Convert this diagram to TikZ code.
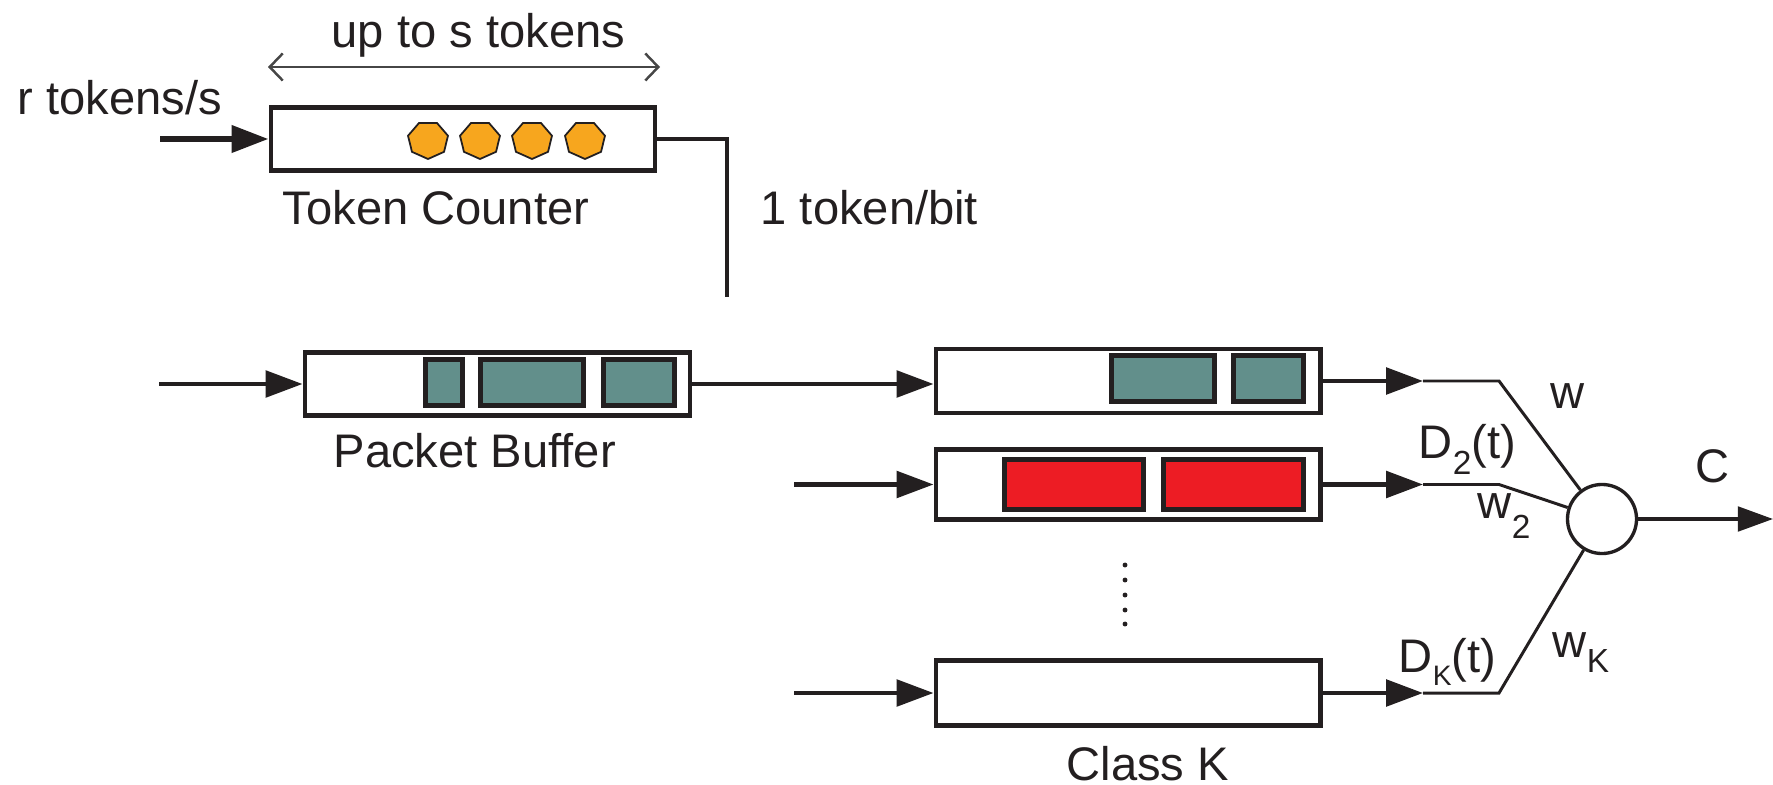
\documentclass[tikz,border=0pt]{standalone}
\usepackage{fontspec}
\setmainfont{Liberation Sans}
\usetikzlibrary{arrows.meta,calc}

\definecolor{ink}{RGB}{35,31,32}
\definecolor{pktteal}{RGB}{98,143,139}
\definecolor{pktred}{RGB}{237,28,36}
\definecolor{tokorange}{RGB}{247,166,30}
\definecolor{spangray}{RGB}{70,70,70}

% lowered small index for the D and w labels
\newcommand\lowidx[2][4.6pt]{\raisebox{-#1}{\fontsize{9.5pt}{9.5pt}\selectfont #2}}

\begin{document}
\begin{tikzpicture}[
  x=0.01cm, y=-0.01cm,
  font=\fontsize{13.4pt}{15pt}\selectfont,
  queue/.style={draw=ink, line width=1.35pt, fill=white, inner sep=0pt,
                minimum width=3.84cm},
  pkt/.style={draw=ink, line width=1.3pt, inner sep=0pt},
  conn/.style={draw=ink, line width=1.25pt,
               -{Triangle[length=10.5pt,width=7.5pt]}},
  feed/.style={draw=ink, line width=0.85pt},
  span/.style={draw=spangray, line width=0.7pt,
               {Straight Barb[length=3.7pt,width=7.7pt]}-{Straight Barb[length=3.7pt,width=7.7pt]}},
  token/.style={draw=ink, line width=0.5pt, fill=tokorange},
  lbl/.style={inner sep=0pt, anchor=base west, text=ink}
]
\useasboundingbox (0,0) rectangle (1773,785);

% ---------------- token bucket ----------------
\node[queue, minimum height=0.63cm] (tc) at (463,139) {};
\foreach \cx [count=\i] in {428,480,532,585}{
  \draw[token, shift={(\cx,140)}]
    plot[samples at={0,...,6}, variable=\t]
      ({20.5*cos(90+\t*360/7)},{19*sin(90+\t*360/7)}) -- cycle;
}
\coordinate (tcin) at (160,139);
\draw[conn, line width=1.7pt] (tcin) -- (tc.west);

\coordinate (spanL) at (268,67);
\coordinate (spanR) at (660,67);
\draw[span] (spanL) -- (spanR);

\coordinate (bitdrop) at (727,297);
\draw[ink, line width=1.3pt] (tc.east) -| (bitdrop);

\node[lbl] (lupto) at (331,48) {up to s tokens};
\node[lbl] (lrate) at (17,115) {r tokens/s};
\node[lbl] (ltc)   at (282,225) {Token Counter};
\node[lbl] (lbit)  at (760,225) {1 token/bit};

% ---------------- packet buffer ----------------
\node[queue, minimum width=3.85cm, minimum height=0.63cm] (pb) at (497.5,384) {};
\node[pkt, fill=pktteal, minimum width=0.37cm, minimum height=0.46cm] (pb1) at (444,382.5) {};
\node[pkt, fill=pktteal, minimum width=1.03cm, minimum height=0.46cm] (pb2) at (532,382.5) {};
\node[pkt, fill=pktteal, minimum width=0.71cm, minimum height=0.46cm] (pb3) at (639,382.5) {};
\coordinate (pbin) at (159,384);
\draw[conn] (pbin) -- (pb.west);
\node[lbl] (lpb) at (333,467) {Packet Buffer};

% ---------------- class queues ----------------
\node[queue, minimum height=0.64cm] (c1) at (1128,381) {};
\node[pkt, fill=pktteal, minimum width=1.03cm, minimum height=0.46cm] (c1a) at (1163,378.5) {};
\node[pkt, fill=pktteal, minimum width=0.70cm, minimum height=0.46cm] (c1b) at (1268.5,378.5) {};

\node[queue, minimum height=0.70cm] (c2) at (1128,484.5) {};
\node[pkt, fill=pktred, minimum width=1.39cm, minimum height=0.50cm] (c2a) at (1074,484.5) {};
\node[pkt, fill=pktred, minimum width=1.40cm, minimum height=0.50cm] (c2b) at (1233.5,484.5) {};

\node[queue, minimum height=0.65cm] (cK) at (1128,693) {};
\node[lbl] (lck) at (1066,780) {Class K};

\draw[conn] (pb.east) -- (c1.west |- pb.east);
\coordinate (in2) at (794,484.5);
\coordinate (inK) at (794,693);
\draw[conn] (in2) -- (c2.west);
\draw[conn] (inK) -- (cK.west);

\foreach \yy in {565,580,595,610,624}
  \fill[ink] (1125,\yy) circle (0.7pt);

% ---------------- scheduler ----------------
\node[draw=ink, circle, line width=0.95pt, minimum size=0.69cm, inner sep=0pt] (merge) at (1602,519) {};

\coordinate (t1) at (1423,381);   \coordinate (b1) at (1499,381);
\coordinate (t2) at (1423,484.5); \coordinate (b2) at (1499,484.5);
\coordinate (tK) at (1423,693);   \coordinate (bK) at (1499,693);

\draw[conn] (c1.east) -- (t1);
\draw[conn] (c2.east) -- (t2);
\draw[conn] (cK.east) -- (tK);
\draw[feed] (t1) -- (b1) -- (merge);
\draw[feed] (t2) -- (b2) -- (merge);
\draw[feed] (tK) -- (bK) -- (merge);

\coordinate (out) at (1773,519);
\draw[ink, line width=0.95pt, -{Triangle[length=10pt,width=7pt]}] (merge.east) -- (out);

\node[lbl] (lw)  at (1550,408) {w};
\node[lbl] (ld2) at (1418,458) {D\lowidx[4.8pt]{2}(t)};
\node[lbl] (lw2) at (1477,518) {w\lowidx[5.7pt]{2}};
\node[lbl] (ldk) at (1398,672) {D\lowidx[3.7pt]{\fontsize{8pt}{8pt}\selectfont K}(t)};
\node[lbl] (lwk) at (1552,657) {w\lowidx[4.3pt]{K}};
\node[lbl] (lc)  at (1695,482) {C};

\end{tikzpicture}
\end{document}
